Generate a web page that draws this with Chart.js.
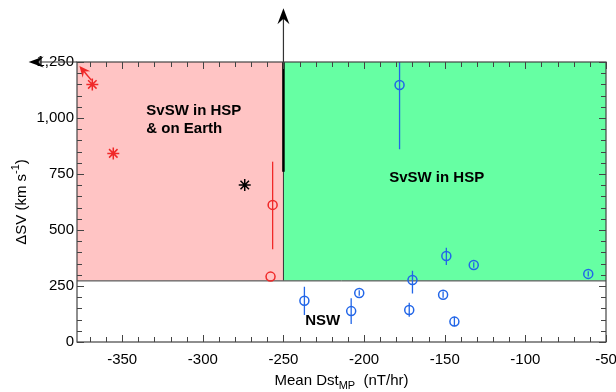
<!DOCTYPE html>
<html>
<head>
<meta charset="utf-8">
<script src="https://cdn.jsdelivr.net/npm/chart.js@4.4.0/dist/chart.umd.min.js"></script>
<style>
  html, body { margin: 0; padding: 0; background: #fff; }
  #wrap { width: 616px; height: 392px; }
</style>
</head>
<body>
<div id="wrap"><canvas id="dstChart"></canvas></div>
<script>
// axis ticks
const xTicks = [-350, -300, -250, -200, -150, -100, -50];
const yTicks = [0, 250, 500, 750, 1000, 1250];

// starred events
const redStarX = [-368.5, -355.5];
const redStarY = [1150, 842];
const blackStarX = [-274];
const blackStarY = [701];

// red open circles and their error bars
const redCircX = [-256.7, -258];
const redCircY = [612, 292];
const redLo = [414, 292];
const redHi = [805, 292];

// blue open circles and their error bars
const blueX = [-237, -208, -203, -170, -172, -149, -151, -144, -132, -61, -178];
const blueY = [184, 138, 219, 277, 143, 384, 211, 91, 344, 304, 1147];
const blueLo = [121, 80, 207, 217, 113, 344, 197, 70, 332, 292, 860];
const blueHi = [247, 195, 231, 318, 175, 421, 225, 113, 356, 316, 1250];

// region boundaries
const dstCut = -250;
const svCut = 275;

const RED = '#f02828';
const BLUE = '#2266e8';

function toPts(xs, ys) {
  return xs.map((x, i) => ({ x: x, y: ys[i] }));
}

function barPts(xs, lo, hi) {
  const pts = [];
  xs.forEach((x, i) => {
    pts.push({ x: x, y: lo[i] }, { x: x, y: hi[i] }, { x: x, y: null });
  });
  return pts;
}

function arrowHead(ctx, x0, y0, x1, y1, len, half, color) {
  const a = Math.atan2(y1 - y0, x1 - x0);
  ctx.save();
  ctx.translate(x1, y1);
  ctx.rotate(a);
  ctx.fillStyle = color;
  ctx.beginPath();
  ctx.moveTo(0, 0);
  ctx.lineTo(-len, -half);
  ctx.lineTo(-len * 0.65, 0);
  ctx.lineTo(-len, half);
  ctx.closePath();
  ctx.fill();
  ctx.restore();
}

const decor = {
  id: 'decor',
  beforeDatasetsDraw(chart) {
    const { ctx, scales: { x, y }, chartArea: a } = chart;
    const xc = x.getPixelForValue(dstCut);
    const yc = y.getPixelForValue(svCut);
    ctx.save();
    ctx.fillStyle = '#ffc4c4';
    ctx.fillRect(a.left, a.top, xc - a.left, yc - a.top);
    ctx.fillStyle = '#66ffa3';
    ctx.fillRect(xc, a.top, a.right - xc, yc - a.top);

    ctx.strokeStyle = '#333';
    ctx.lineWidth = 1;
    ctx.beginPath();
    ctx.moveTo(a.left, yc + 0.5);
    ctx.lineTo(a.right, yc + 0.5);
    ctx.moveTo(xc, yc);
    ctx.lineTo(xc, a.top);
    ctx.stroke();

    // thick segment of the boundary near the top
    ctx.strokeStyle = '#000';
    ctx.lineWidth = 2.5;
    ctx.beginPath();
    ctx.moveTo(xc, a.top);
    ctx.lineTo(xc, y.getPixelForValue(760));
    ctx.stroke();
    ctx.restore();
  },
  afterDraw(chart) {
    const { ctx, scales: { x, y }, chartArea: a } = chart;
    ctx.save();

    // frame
    ctx.strokeStyle = '#444';
    ctx.lineWidth = 1.2;
    ctx.strokeRect(a.left, a.top, a.right - a.left, a.bottom - a.top);

    // inward ticks on all four sides
    ctx.lineWidth = 1;
    ctx.beginPath();
    for (let v = -370; v <= -50; v += 10) {
      const px = Math.round(x.getPixelForValue(v)) + 0.5;
      const len = v % 50 === 0 ? 7 : 5;
      ctx.moveTo(px, a.bottom);
      ctx.lineTo(px, a.bottom - len);
      ctx.moveTo(px, a.top);
      ctx.lineTo(px, a.top + len);
    }
    for (let v = 0; v <= 1250; v += 50) {
      const py = Math.round(y.getPixelForValue(v)) + 0.5;
      const len = v % 250 === 0 ? 7 : 5;
      ctx.moveTo(a.left, py);
      ctx.lineTo(a.left + len, py);
      ctx.moveTo(a.right, py);
      ctx.lineTo(a.right - len, py);
    }
    ctx.stroke();

    // arrow up along the Dst boundary
    const xc = x.getPixelForValue(dstCut);
    const yTop = y.getPixelForValue(1490);
    ctx.strokeStyle = '#333';
    ctx.lineWidth = 1.2;
    ctx.beginPath();
    ctx.moveTo(xc, a.top);
    ctx.lineTo(xc, yTop + 8);
    ctx.stroke();
    arrowHead(ctx, xc, a.top, xc, yTop, 16, 6, '#000');

    // arrow left along the top edge
    const xl = x.getPixelForValue(-408);
    ctx.beginPath();
    ctx.moveTo(a.left, a.top);
    ctx.lineTo(xl + 8, a.top);
    ctx.stroke();
    arrowHead(ctx, a.left, a.top, xl, a.top, 15, 5.5, '#000');

    // small red arrow towards the corner
    const rx0 = x.getPixelForValue(-369), ry0 = y.getPixelForValue(1168);
    const rx1 = x.getPixelForValue(-376.5), ry1 = y.getPixelForValue(1232);
    ctx.strokeStyle = RED;
    ctx.lineWidth = 1.5;
    ctx.beginPath();
    ctx.moveTo(rx0, ry0);
    ctx.lineTo((rx0 + rx1 * 2) / 3, (ry0 + ry1 * 2) / 3);
    ctx.stroke();
    arrowHead(ctx, rx0, ry0, rx1, ry1, 11, 5, RED);

    // region labels
    ctx.fillStyle = '#000';
    ctx.font = 'bold 15px Arial, "Liberation Sans", sans-serif';
    ctx.textBaseline = 'middle';
    ctx.textAlign = 'left';
    ctx.fillText('SvSW in HSP', x.getPixelForValue(-335), y.getPixelForValue(1031));
    ctx.fillText('& on Earth', x.getPixelForValue(-335), y.getPixelForValue(951));
    ctx.fillText('NSW', x.getPixelForValue(-236.5), y.getPixelForValue(94));
    ctx.textAlign = 'center';
    ctx.fillText('SvSW in HSP', x.getPixelForValue(-155), y.getPixelForValue(732));

    // x axis title with subscript
    ctx.textBaseline = 'alphabetic';
    ctx.textAlign = 'left';
    const big = '15px Arial, "Liberation Sans", sans-serif';
    const small = '11px Arial, "Liberation Sans", sans-serif';
    const p1 = 'Mean Dst', p2 = 'MP', p3 = '  (nT/hr)';
    ctx.font = big;
    const w1 = ctx.measureText(p1).width, w3 = ctx.measureText(p3).width;
    ctx.font = small;
    const w2 = ctx.measureText(p2).width;
    let tx = (a.left + a.right) / 2 - (w1 + w2 + w3) / 2;
    const ty = 385;
    ctx.font = big; ctx.fillText(p1, tx, ty); tx += w1;
    ctx.font = small; ctx.fillText(p2, tx, ty + 4); tx += w2;
    ctx.font = big; ctx.fillText(p3, tx, ty);

    // y axis title with superscript
    ctx.translate(22, (a.top + a.bottom) / 2);
    ctx.rotate(-Math.PI / 2);
    ctx.textBaseline = 'middle';
    const q1 = '\u0394SV (km s', q2 = '-1', q3 = ')';
    ctx.font = big;
    const v1 = ctx.measureText(q1).width, v3 = ctx.measureText(q3).width;
    ctx.font = small;
    const v2 = ctx.measureText(q2).width;
    let sx = -(v1 + v2 + v3) / 2;
    ctx.font = big; ctx.fillText(q1, sx, 0); sx += v1;
    ctx.font = small; ctx.fillText(q2, sx, -6); sx += v2;
    ctx.font = big; ctx.fillText(q3, sx, 0);

    ctx.restore();
  }
};

const ctx = document.getElementById('dstChart').getContext('2d');

new Chart(ctx, {
  type: 'scatter',
  data: {
    datasets: [
      {
        label: 'red error',
        data: barPts(redCircX, redLo, redHi),
        showLine: true,
        spanGaps: false,
        borderColor: RED,
        borderWidth: 1.3,
        pointRadius: 0
      },
      {
        label: 'blue error',
        data: barPts(blueX, blueLo, blueHi),
        showLine: true,
        spanGaps: false,
        borderColor: BLUE,
        borderWidth: 1.3,
        pointRadius: 0
      },
      {
        label: 'red circles',
        data: toPts(redCircX, redCircY),
        pointStyle: 'circle',
        pointRadius: 4.5,
        backgroundColor: 'rgba(0,0,0,0)',
        borderColor: RED,
        borderWidth: 1.5
      },
      {
        label: 'blue circles',
        data: toPts(blueX, blueY),
        pointStyle: 'circle',
        pointRadius: 4.5,
        backgroundColor: 'rgba(0,0,0,0)',
        borderColor: BLUE,
        borderWidth: 1.5
      },
      {
        label: 'red stars',
        data: toPts(redStarX, redStarY),
        pointStyle: 'star',
        pointRadius: 6,
        borderColor: RED,
        borderWidth: 1.5
      },
      {
        label: 'black star',
        data: toPts(blackStarX, blackStarY),
        pointStyle: 'star',
        pointRadius: 6,
        borderColor: '#000',
        borderWidth: 1.5
      }
    ]
  },
  options: {
    responsive: true,
    maintainAspectRatio: false,
    animation: false,
    layout: { padding: { left: 0, top: 62, right: 10, bottom: 0 } },
    scales: {
      x: {
        type: 'linear',
        min: -378,
        max: -50,
        afterBuildTicks: (s) => { s.ticks = xTicks.map(v => ({ value: v })); },
        afterFit: (s) => { s.height = 50; s.paddingLeft = 0; s.paddingRight = 0; },
        grid: { display: false, drawTicks: false },
        border: { display: false },
        ticks: {
          autoSkip: false,
          maxRotation: 0,
          padding: 9,
          color: '#000',
          font: { family: 'Arial, "Liberation Sans", sans-serif', size: 15 }
        }
      },
      y: {
        type: 'linear',
        min: 0,
        max: 1250,
        afterBuildTicks: (s) => { s.ticks = yTicks.map(v => ({ value: v })); },
        afterFit: (s) => { s.width = 77; s.paddingTop = 0; s.paddingBottom = 0; },
        grid: { display: false, drawTicks: false },
        border: { display: false },
        ticks: {
          padding: 3,
          color: '#000',
          font: { family: 'Arial, "Liberation Sans", sans-serif', size: 15 }
        }
      }
    },
    plugins: {
      legend: { display: false },
      tooltip: { enabled: false },
      title: { display: false }
    }
  },
  plugins: [decor]
});
</script>
</body>
</html>
